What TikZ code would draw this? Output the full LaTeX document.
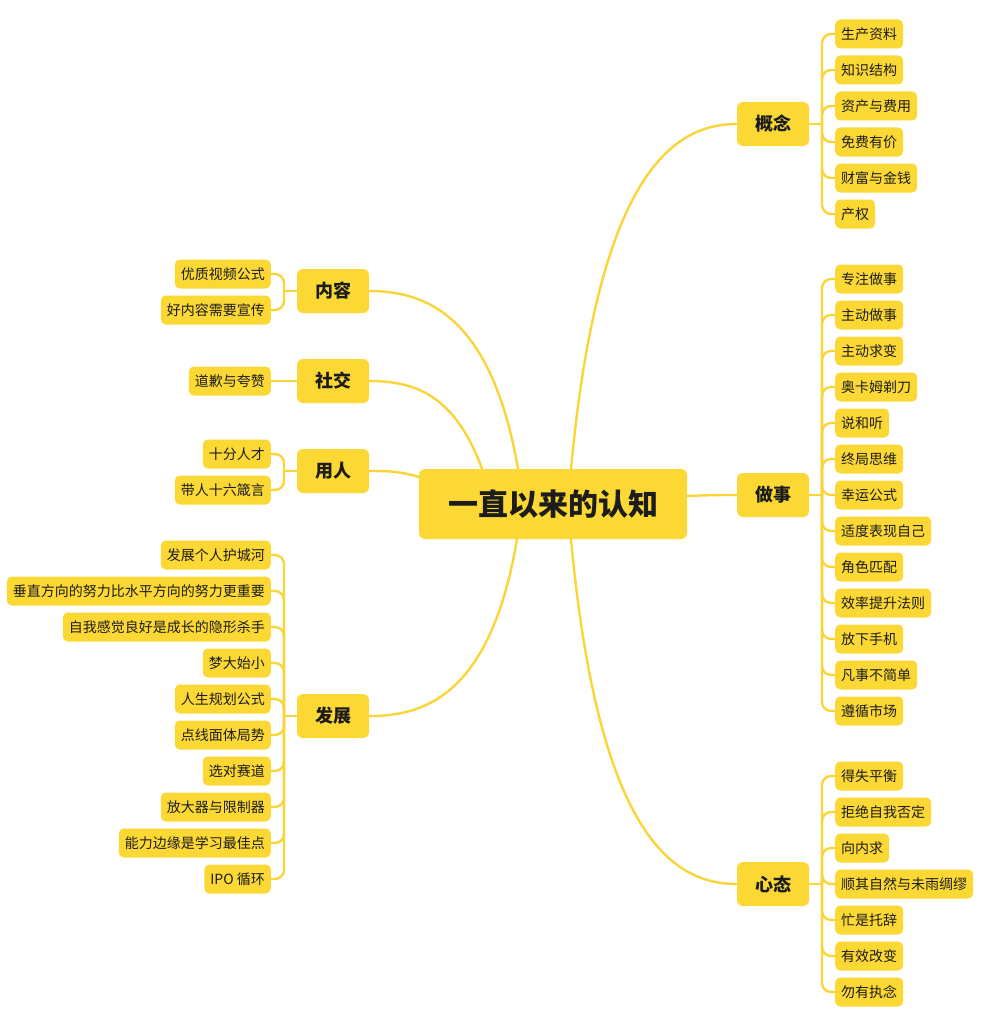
\documentclass[tikz,border=0pt]{standalone}
\usepackage{fontspec}
\setmainfont{Noto Sans CJK SC}
\definecolor{mmfill}{HTML}{FCD834}
\definecolor{mmline}{HTML}{F9D53A}
\definecolor{mmtext}{HTML}{1C1C1C}
\tikzset{
  rootbox/.style={fill=mmfill, rounded corners=6pt, minimum width=268pt, minimum height=70pt, inner sep=0pt, text=mmtext, font=\fontsize{30}{32}\selectfont\bfseries},
  mainbox/.style={fill=mmfill, rounded corners=6pt, minimum width=72pt, minimum height=44pt, inner sep=0pt, text=mmtext, font=\fontsize{18}{20}\selectfont\bfseries},
  leafr/.style={fill=mmfill, rounded corners=5pt, minimum height=29pt, inner xsep=6pt, inner ysep=0pt, text=mmtext, font=\fontsize{14}{16}\selectfont, anchor=west},
  leafl/.style={leafr, anchor=east},
  link/.style={draw=mmline, line width=2.4pt, line cap=round},
  brace/.style={link, rounded corners=9pt},
}
\begin{document}
\begin{tikzpicture}[x=1pt,y=-1pt]
\useasboundingbox (0,0) rectangle (990,1022);
% root and main nodes
\node[rootbox] (root) at (553,504) {一直以来的认知};
\node[mainbox] (gn) at (773,124) {概念};
\node[mainbox] (zs) at (773,495) {做事};
\node[mainbox] (xt) at (773,884) {心态};
\node[mainbox] (nr) at (333,291) {内容};
\node[mainbox] (sj) at (333,381) {社交};
\node[mainbox] (yr) at (333,471) {用人};
\node[mainbox] (fz) at (333,716) {发展};
% main connectors
\draw[link] (root.north -| 571,0) .. controls (598,180) and (670,124) .. (gn.west);
\draw[link] (root.east |- 0,496) .. controls (710,495) and (720,495) .. (zs.west);
\draw[link] (root.south -| 571,0) .. controls (598,830) and (670,884) .. (xt.west);
\draw[link] (root.north -| 518,0) .. controls (492,320) and (430,291) .. (nr.east);
\draw[link] (root.north -| 482,0) .. controls (455,395) and (415,381) .. (sj.east);
\draw[link] (root.west |- 0,477) .. controls (400,471) and (385,471) .. (yr.east);
\draw[link] (root.south -| 517,0) .. controls (490,700) and (420,716) .. (fz.east);
% bracket points
\coordinate (bgn) at (822,124);
\coordinate (bzs) at (822,495);
\coordinate (bxt) at (822,884);
\coordinate (bnr) at (284,291);
\coordinate (byr) at (284,471);
\coordinate (bfz) at (284,716);
\draw[link] (gn.east) -- (bgn);
\draw[link] (zs.east) -- (bzs);
\draw[link] (xt.east) -- (bxt);
\draw[link] (nr.west) -- (bnr);
\draw[link] (yr.west) -- (byr);
\draw[link] (fz.west) -- (bfz);
% 概念 leaves
\foreach \t [count=\i from 0] in {生产资料,知识结构,资产与费用,免费有价,财富与金钱,产权}{
  \node[leafr] (gn\i) at (835,34+36*\i) {\t};
  \draw[brace] (bgn) |- (gn\i.west);
}
% 做事 leaves
\foreach \t [count=\i from 0] in {专注做事,主动做事,主动求变,奥卡姆剃刀,说和听,终局思维,幸运公式,适度表现自己,角色匹配,效率提升法则,放下手机,凡事不简单,遵循市场}{
  \node[leafr] (zs\i) at (835,279+36*\i) {\t};
  \draw[brace] (bzs) |- (zs\i.west);
}
% 心态 leaves
\foreach \t [count=\i from 0] in {得失平衡,拒绝自我否定,向内求,顺其自然与未雨绸缪,忙是托辞,有效改变,勿有执念}{
  \node[leafr] (xt\i) at (835,776+36*\i) {\t};
  \draw[brace] (bxt) |- (xt\i.west);
}
% 内容 leaves
\foreach \t [count=\i from 0] in {优质视频公式,好内容需要宣传}{
  \node[leafl] (nr\i) at (271,274+36*\i) {\t};
  \draw[brace] (bnr) |- (nr\i.east);
}
% 社交 leaf
\node[leafl] (sj0) at (271,381) {道歉与夸赞};
\draw[link] (sj.west) -- (sj0.east);
% 用人 leaves
\foreach \t [count=\i from 0] in {十分人才,带人十六箴言}{
  \node[leafl] (yr\i) at (271,454+36*\i) {\t};
  \draw[brace] (byr) |- (yr\i.east);
}
% 发展 leaves
\foreach \t [count=\i from 0] in {发展个人护城河,垂直方向的努力比水平方向的努力更重要,自我感觉良好是成长的隐形杀手,梦大始小,人生规划公式,点线面体局势,选对赛道,放大器与限制器,能力边缘是学习最佳点,IPO 循环}{
  \node[leafl] (fz\i) at (271,555+36*\i) {\t};
  \draw[brace] (bfz) |- (fz\i.east);
}
\end{tikzpicture}
\end{document}
